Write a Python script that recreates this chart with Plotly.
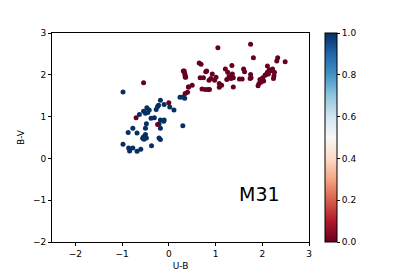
import plotly.graph_objects as go
import plotly.colors as pc

# Red group (colour value 0)
red_ub = [-0.54, -0.70, -0.24, 0.00,
          0.35, 0.42, 0.40, 0.35, 0.42, 0.50,
          1.05, 1.75, 1.81, 2.33, 2.31, 2.49,
          0.65, 0.69, 0.33, 0.35, 0.36, 0.31, 0.34,
          1.35, 1.21, 1.26, 1.36, 1.29, 1.33, 1.38, 1.38,
          1.60, 1.62, 1.51, 1.57,
          1.75, 1.76, 1.74,
          0.81, 0.79, 0.93, 0.90, 1.01, 0.98, 0.86, 0.67, 0.74,
          1.08, 1.13, 1.08, 1.24,
          0.71, 0.78, 0.87, 0.84,
          1.95, 2.01, 1.93, 1.91, 2.06, 2.11, 2.13, 2.11, 2.22, 2.26, 2.17, 2.24,
          2.03, 2.07, 1.97, 2.25, 2.15]
red_bv = [1.81, 0.97, 0.81, 1.33,
          1.55, 1.71, 1.58, 1.95, 1.71, 1.75,
          2.65, 2.73, 2.41, 2.41, 2.33, 2.31,
          2.28, 2.25, 2.09, 1.99, 1.94, 2.09, 2.03,
          2.22, 2.14, 2.06, 2.02, 1.96, 1.91, 1.93, 1.71,
          2.14, 2.07, 1.90, 1.90,
          2.01, 1.93, 1.91,
          2.09, 2.07, 2.02, 1.91, 1.94, 1.87, 1.87, 1.93, 1.93,
          1.79, 1.75, 1.70, 1.89,
          1.66, 1.65, 1.65, 1.65,
          1.89, 1.93, 1.79, 1.74, 1.99, 2.06, 2.02, 2.21, 2.14, 2.06, 2.09, 1.91,
          1.85, 2.00, 1.82, 1.98, 2.12]

# Blue group (colour value 1)
blue_ub = [-0.98, 0.24, 0.34, 0.30, -0.18, -0.10, 0.02, 0.11, -0.24, -0.22, -0.27,
           -0.54, -0.47, -0.42, -0.45, -0.50, -0.63, -0.38, -0.31, -0.10, 0.30,
           -0.48, -0.50, -0.18, -0.77, -0.87, -0.68,
           -0.50, -0.54, -0.48, -0.56, -0.53, -0.21, -0.18,
           -0.98, -0.37, -0.86, -0.77, -0.84, -0.68, -0.60, -0.11, -0.21, -0.18]
blue_bv = [1.59, 1.46, 1.44, 1.47, 1.39, 1.29, 1.23, 1.16, 1.24, 1.27, 1.17,
           1.13, 1.21, 1.16, 1.10, 1.08, 1.05, 0.96, 0.97, 0.92, 0.78,
           0.83, 0.72, 0.72, 0.72, 0.62, 0.61,
           0.57, 0.52, 0.49, 0.48, 0.46, 0.49, 0.45,
           0.34, 0.30, 0.25, 0.25, 0.18, 0.17, 0.22, 0.89, 0.82, 0.92]

ub = blue_ub + red_ub
bv = blue_bv + red_bv
cval = [1.0] * len(blue_ub) + [0.0] * len(red_ub)

x_ticks = [-2, -1, 0, 1, 2, 3]
y_ticks = [-2, -1, 0, 1, 2, 3]
cb_ticks = [0.0, 0.2, 0.4, 0.6, 0.8, 1.0]

rdbu = pc.diverging.RdBu
cs = [[i / (len(rdbu) - 1), c] for i, c in enumerate(rdbu)]

fig = go.Figure(go.Scatter(
    x=ub, y=bv, mode="markers",
    marker=dict(size=5, color=cval, cmin=0, cmax=1, colorscale=cs,
                line=dict(width=0), showscale=True,
                colorbar=dict(x=1.062, xanchor="left", y=0.5, yanchor="middle",
                              len=1, lenmode="fraction", thickness=12,
                              xpad=0, ypad=0, outlinewidth=1, outlinecolor="black",
                              tickvals=cb_ticks, ticktext=[f"{v:.1f}" for v in cb_ticks],
                              ticks="outside", ticklen=3, tickcolor="black",
                              tickfont=dict(size=9, color="black"))),
    showlegend=False))

fig.add_annotation(x=1.93, y=-0.84, text="M31", showarrow=False,
                   font=dict(size=19, color="black", family="DejaVu Sans"))

axis_common = dict(showgrid=False, zeroline=False, showline=True, linecolor="black",
                   linewidth=1, mirror=True, ticks="outside", ticklen=3,
                   tickcolor="black", tickfont=dict(size=9, color="black"),
                   automargin=False)

fig.update_layout(
    width=415, height=277,
    margin=dict(l=52, r=106, t=33, b=35, autoexpand=False),
    paper_bgcolor="white", plot_bgcolor="white",
    font=dict(family="DejaVu Sans", size=9, color="black"),
    xaxis=dict(range=[-2.5, 3], tickvals=x_ticks,
               title=dict(text="U-B", standoff=4, font=dict(size=9)), **axis_common),
    yaxis=dict(range=[-2, 3], tickvals=y_ticks,
               title=dict(text="B-V", standoff=6, font=dict(size=9)), **axis_common),
)

fig.write_html("out.html", config={"displayModeBar": False},
               post_script="document.body.style.margin='0';document.body.style.overflow='hidden';")
